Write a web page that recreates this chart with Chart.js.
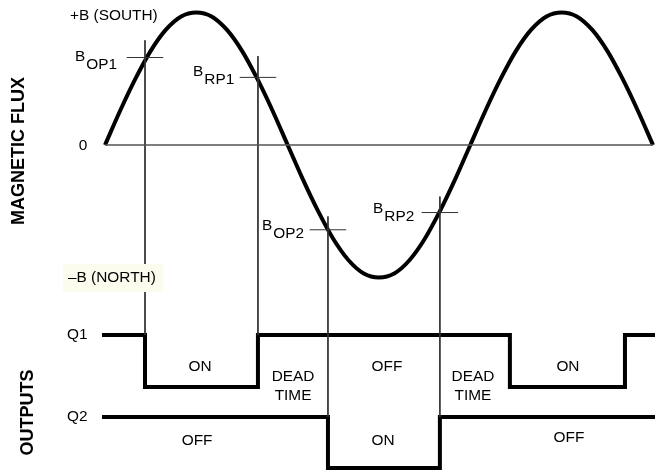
<!DOCTYPE html>
<html>
<head>
<meta charset="utf-8">
<script src="https://cdn.jsdelivr.net/npm/chart.js@4.4.1/dist/chart.umd.min.js"></script>
<style>
  html, body { margin: 0; padding: 0; background: #fff; }
  #wrap { width: 662px; height: 470px; }
</style>
</head>
<body>
<div id="wrap"><canvas id="chart" width="662" height="470"></canvas></div>
<script>
// applied field, phase in degrees and normalised flux (+1 = +B south, -1 = -B north)
const phaseDeg = [0, 15, 30, 45, 60, 75, 90, 105, 120, 135, 150, 165, 180,
  195, 210, 225, 240, 255, 270, 285, 300, 315, 330, 345, 360,
  375, 390, 405, 420, 435, 450, 465, 480, 495, 510, 525, 540];
const fluxValues = [0, 0.26, 0.5, 0.71, 0.87, 0.97, 1.0, 0.97, 0.87, 0.71, 0.5, 0.26, 0,
  -0.26, -0.5, -0.71, -0.87, -0.97, -1.0, -0.97, -0.87, -0.71, -0.5, -0.26, 0,
  0.26, 0.5, 0.71, 0.87, 0.97, 1.0, 0.97, 0.87, 0.71, 0.5, 0.26, 0];

// operate / release points
const pointNames = ['OP1', 'RP1', 'OP2', 'RP2'];
const pointPhase = [39.4, 150.7, 219.7, 330];
const pointFlux = [0.66, 0.51, -0.64, -0.51];
const guideTop = [0.79, 0.67, -0.54, -0.39];
const guideRow = ['Q1', 'Q1', 'Q2', 'Q2'];

// outputs: edges in degrees, state per segment (1 = high / OFF, 0 = low / ON)
const q1Edges = [-3, 39.4, 150.7, 399, 512.4, 542];
const q1States = [1, 0, 1, 0, 1];
const q2Edges = [-3, 219.7, 330, 542];
const q2States = [1, 0, 1];

// vertical placement of the output traces on the flux scale
const rows = {
  Q1: { high: -1.434, low: -1.826 },
  Q2: { high: -2.053, low: -2.438 }
};

const TEXT_SX = 1.1;
const FONT = '14px "Liberation Sans", Arial, sans-serif';
const BOLD = 'bold 18px "Liberation Sans", Arial, sans-serif';
const TICK_HALF = 18;

function stepData(edges, states, row) {
  const pts = states.map((s, i) => ({ x: edges[i], y: s ? row.high : row.low }));
  pts.push({ x: edges[edges.length - 1], y: states[states.length - 1] ? row.high : row.low });
  return pts;
}

const thin = { borderColor: '#333', borderWidth: 1, pointRadius: 0, showLine: true, fill: false };

const datasets = [];
datasets.push(Object.assign({}, thin, {
  borderColor: '#555', borderWidth: 1.5,
  data: [{ x: phaseDeg[0], y: 0 }, { x: phaseDeg[phaseDeg.length - 1], y: 0 }]
}));
pointPhase.forEach((p, i) => {
  datasets.push(Object.assign({}, thin, {
    data: [{ x: p, y: guideTop[i] }, { x: p, y: rows[guideRow[i]].high }]
  }));
  datasets.push(Object.assign({}, thin, {
    data: [{ x: p - TICK_HALF, y: pointFlux[i] }, { x: p + TICK_HALF, y: pointFlux[i] }]
  }));
});
datasets.push({
  data: phaseDeg.map((x, i) => ({ x: x, y: fluxValues[i] })),
  borderColor: '#000', borderWidth: 4, pointRadius: 0, showLine: true,
  cubicInterpolationMode: 'monotone'
});
datasets.push({
  data: stepData(q1Edges, q1States, rows.Q1),
  borderColor: '#000', borderWidth: 4, pointRadius: 0, showLine: true,
  stepped: true, borderJoinStyle: 'miter'
});
datasets.push({
  data: stepData(q2Edges, q2States, rows.Q2),
  borderColor: '#000', borderWidth: 4, pointRadius: 0, showLine: true,
  stepped: true, borderJoinStyle: 'miter'
});

// text anchors in data units (degrees, flux)
const labels = [
  { t: '+B (SOUTH)', x: -34.5, y: 0.974, a: 'left' },
  { t: '0', x: -21.7, y: -0.01, a: 'center' },
  { t: 'Q1', x: -37.4, y: rows.Q1.high, a: 'left' },
  { t: 'Q2', x: -37.4, y: rows.Q2.high, a: 'left' },
  { t: 'ON', x: 93.6, y: -1.675, a: 'center' },
  { t: 'DEAD', x: 185.3, y: -1.751, a: 'center' },
  { t: 'TIME', x: 185.3, y: -1.894, a: 'center' },
  { t: 'OFF', x: 277.9, y: -1.675, a: 'center' },
  { t: 'DEAD', x: 362.6, y: -1.751, a: 'center' },
  { t: 'TIME', x: 362.6, y: -1.894, a: 'center' },
  { t: 'ON', x: 456.2, y: -1.675, a: 'center' },
  { t: 'OFF', x: 90.7, y: -2.234, a: 'center' },
  { t: 'ON', x: 273.9, y: -2.234, a: 'center' },
  { t: 'OFF', x: 457.2, y: -2.211, a: 'center' }
];
const pointLabelPos = [
  { x: -29.6, y: 0.664 },
  { x: 86.7, y: 0.547 },
  { x: 154.7, y: -0.611 },
  { x: 264.1, y: -0.483 }
];

function drawText(ctx, text, px, py, align, font) {
  ctx.save();
  ctx.font = font;
  ctx.fillStyle = '#000';
  ctx.textAlign = align;
  ctx.textBaseline = 'middle';
  ctx.translate(px, py);
  ctx.scale(TEXT_SX, 1);
  ctx.fillText(text, 0, 0);
  ctx.restore();
}

const textPlugin = {
  id: 'diagramText',
  afterDatasetsDraw(chart) {
    const ctx = chart.ctx;
    const xs = chart.scales.x, ys = chart.scales.y;

    // -B (NORTH) on its pale box
    const nx = xs.getPixelForValue(-36.5), ny = ys.getPixelForValue(-1.004);
    ctx.save();
    ctx.font = FONT;
    const w = ctx.measureText('–B (NORTH)').width * TEXT_SX;
    ctx.fillStyle = '#fbfbee';
    ctx.fillRect(nx - 5, ny - 14, w + 12, 28);
    ctx.restore();
    drawText(ctx, '–B (NORTH)', nx, ny, 'left', FONT);

    labels.forEach(l => {
      drawText(ctx, l.t, xs.getPixelForValue(l.x), ys.getPixelForValue(l.y), l.a, FONT);
    });

    pointNames.forEach((n, i) => {
      const px = xs.getPixelForValue(pointLabelPos[i].x);
      const py = ys.getPixelForValue(pointLabelPos[i].y);
      ctx.save();
      ctx.font = FONT;
      const bw = ctx.measureText('B').width * TEXT_SX;
      ctx.restore();
      drawText(ctx, 'B', px, py, 'left', FONT);
      drawText(ctx, n, px + bw + 1, py + 8, 'left', FONT);
    });

    // side titles
    [['MAGNETIC FLUX', -85, -0.045], ['OUTPUTS', -76, -2.019]].forEach(s => {
      ctx.save();
      ctx.font = BOLD;
      ctx.fillStyle = '#000';
      ctx.textAlign = 'center';
      ctx.textBaseline = 'middle';
      ctx.translate(xs.getPixelForValue(s[1]), ys.getPixelForValue(s[2]));
      ctx.rotate(-Math.PI / 2);
      ctx.fillText(s[0], 0, 0);
      ctx.restore();
    });
  }
};

new Chart(document.getElementById('chart'), {
  type: 'scatter',
  data: { datasets: datasets },
  options: {
    responsive: false,
    animation: false,
    layout: { padding: 0 },
    plugins: { legend: { display: false }, tooltip: { enabled: false } },
    scales: {
      x: { type: 'linear', min: -103.5, max: 548.9, display: false },
      y: { type: 'linear', min: -2.453, max: 1.094, display: false }
    }
  },
  plugins: [textPlugin]
});
</script>
</body>
</html>
